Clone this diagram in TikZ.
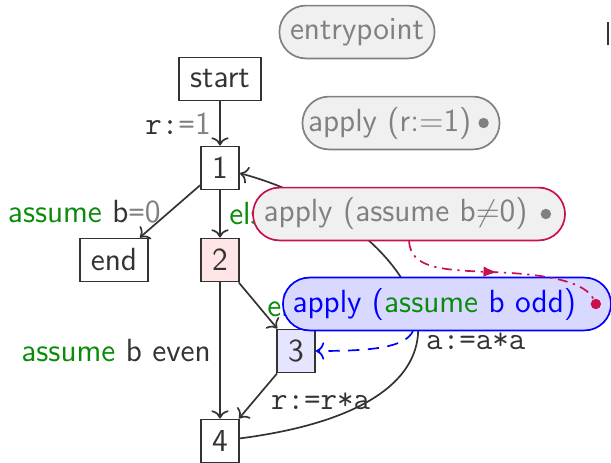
\documentclass[tikz,border=0pt]{standalone}
\usepackage{amsmath}
\usepackage{amssymb}
\usepackage{tikz}
\usetikzlibrary{arrows.meta,decorations.markings}

\definecolor{rubine}{RGB}{200,16,78}
\definecolor{okgreen}{RGB}{10,140,10}
\definecolor{darktext}{RGB}{51,51,51}

\begin{document}
\begin{tikzpicture}[
    x=0.0125cm, y=-0.0125cm,
    every node/.style={font=\sffamily\fontsize{11.4}{13}\selectfont, text=darktext},
    box/.style={rectangle, draw=darktext, line width=0.6pt, minimum width=0.45cm, minimum height=0.54cm, inner xsep=4pt},
    pill/.style={rectangle, rounded corners=0.33cm, draw, line width=0.6pt, minimum height=0.66cm, inner xsep=2pt},
    bulletmark/.style={circle, inner sep=0pt, minimum size=1.3mm},
    arrow/.style={->, draw=darktext, line width=0.6pt},
    lbl/.style={inner sep=3pt}
]

\useasboundingbox (0,0) rectangle (611,463);

% Control flow graph
\node[box] (start) at (220,79) {start};
\node[box] (n1) at (220,168) {1};
\node[box] (end) at (114,260) {end};
\node[box, fill=red!10] (n2) at (220,260) {2};
\node[box, fill=blue!10] (n3) at (296,351) {3};
\node[box] (n4) at (220,441) {4};

% Edges
\draw[arrow] (start) -- (n1) node[midway, left, lbl] {\texttt{r:}\textcolor{gray}{\texttt{=}1}};
\draw[arrow] (n1) -- (end) node[midway, left, lbl] {\textcolor{okgreen}{assume} b\textcolor{gray}{\texttt{=}0}};
\draw[arrow] (n1) -- (n2) node[midway, right, lbl] {\textcolor{okgreen}{else}};
\draw[arrow] (n2) -- (n3) node[midway, right, lbl] {\textcolor{okgreen}{else}};
\draw[arrow] (n2) -- (n4) node[midway, left, lbl] {\textcolor{okgreen}{assume} b even};
\draw[arrow] (n3) -- (n4) node[pos=0.62, right, lbl, xshift=3pt] {\texttt{r:=r*a}};
\draw[arrow] (n4) .. controls (535,400) and (412,219) .. (n1)
    node[pos=0.4, right, lbl] {\texttt{a:=a*a}};

% Transformation steps
\node[pill, draw=gray, fill=gray!12, text=gray, minimum width=1.94cm] (entry) at (357,32) {entrypoint};
\node[pill, draw=gray, fill=gray!12, text=gray, minimum width=2.46cm] (applyr) at (401,123) {apply (r:=1)\hspace{8pt}\mbox{}};
\node[bulletmark, fill=gray] (applyrDot) at ([xshift=-0.21cm]applyr.east) {};
\node[pill, draw=rubine, fill=gray!12, text=gray, minimum width=3.9cm] (neq) at (409,214) {apply (assume b$\neq$0)\hspace{9.5pt}\mbox{}};
\node[bulletmark, fill=gray] (neqDot) at ([xshift=-0.25cm]neq.east) {};
\node[pill, draw=blue, fill=blue!15, text=blue, minimum width=4.1cm] (odd) at (447,304) {apply (\textcolor{okgreen}{assume} b odd)\hspace{9pt}\mbox{}};
\node[bulletmark, fill=rubine] (oddDot) at ([xshift=-0.2cm]odd.east) {};
\coordinate (oddFoot) at (413,331);

% Links between steps
\draw[rubine, line width=0.6pt, dash pattern=on 3.5pt off 2pt on 0.8pt off 2pt,
      postaction={decorate, decoration={markings, mark=at position 0.5 with {\arrow{Latex[length=5pt]}}}}]
    (neq.south) .. controls (411,268) and (440,270) .. (490,272)
    .. controls (555,274) and (586,284) .. (oddDot);
\draw[->, blue, line width=0.6pt, dash pattern=on 4pt off 3pt]
    (oddFoot) .. controls (405,348) and (370,351) .. (n3.east);

% edge of the next column
\fill[darktext] (607,22) rectangle (609.5,45);

\end{tikzpicture}
\end{document}
